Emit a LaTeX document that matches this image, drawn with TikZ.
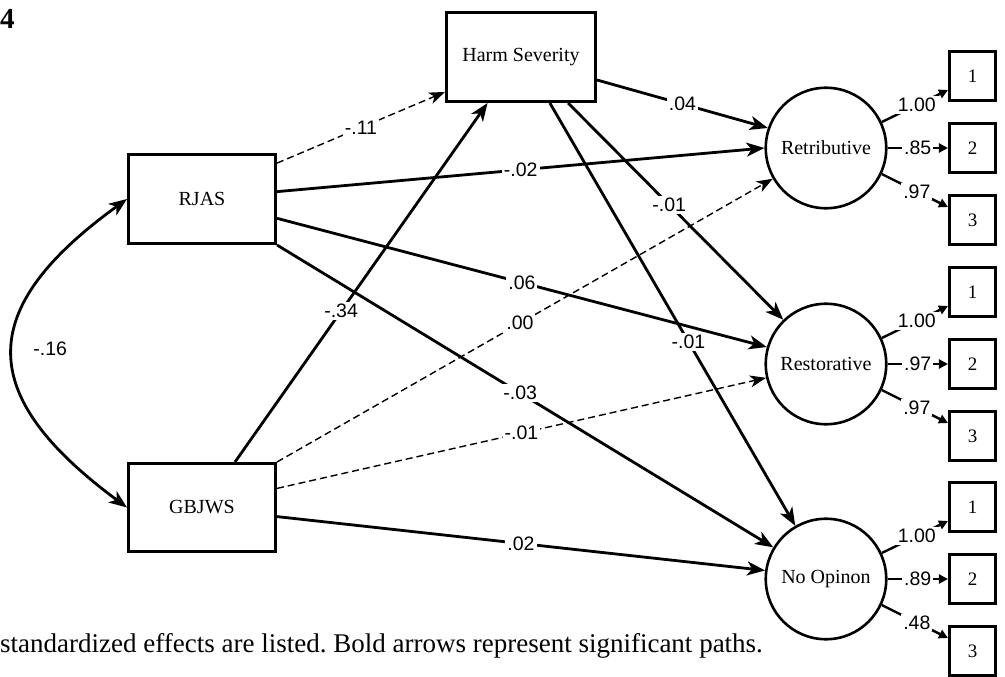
\documentclass[tikz,border=0pt]{standalone}
\usepackage{fontspec}
\setmainfont{Liberation Serif}
\newfontfamily\lblfont{Liberation Sans}
\usetikzlibrary{arrows.meta,calc}
\frenchspacing
\begin{document}
\begin{tikzpicture}[x=1pt,y=-1pt,
  box/.style={draw, line width=3pt, minimum width=147pt, minimum height=89pt, font=\fontsize{20}{20}\selectfont, inner sep=0pt},
  ind/.style={draw, line width=2.6pt, minimum width=46.5pt, minimum height=49.5pt, font=\fontsize{19}{19}\selectfont, inner sep=0pt},
  lat/.style={draw, circle, line width=2.6pt, minimum size=120.5pt, font=\fontsize{20}{20}\selectfont, inner sep=0pt},
  sig/.style={line width=2.8pt, -{Stealth[length=18pt,width=14pt,inset=5pt]}},
  ns/.style={line width=1.4pt, dash pattern=on 7pt off 4pt, -{Stealth[length=16pt,width=12pt,inset=4.5pt]}},
  ld/.style={line width=2.4pt, -{Triangle[length=9pt,width=9pt]}},
  lbl/.style={fill=white, inner sep=2pt, font=\lblfont\fontsize{19.5}{19.5}\selectfont},
  lbltext/.style={inner sep=0pt, font=\lblfont\fontsize{19.5}{19.5}\selectfont},
]
\useasboundingbox (0,0) rectangle (1005,677);

% observed variables
\node[box, minimum width=149pt] (hs) at (521,57) {Harm Severity};
\node[box] (rjas) at (202,199) {RJAS};
\node[box, minimum height=88pt] (gb) at (202,507.5) {GBJWS};

% latent variables
\node[lat] (ret) at (826,148) {Retributive};
\node[lat] (rest) at (826,364) {Restorative};
\node[lat] (noop) at (826,579) {No Opinon};

% indicators
\node[ind] (ret1) at (972.5,76) {1};
\node[ind] (ret2) at (972.5,148) {2};
\node[ind] (ret3) at (972.5,220) {3};
\node[ind] (rest1) at (972.5,292) {1};
\node[ind] (rest2) at (972.5,364) {2};
\node[ind] (rest3) at (972.5,436) {3};
\node[ind] (noop1) at (972.5,507) {1};
\node[ind] (noop2) at (972.5,579) {2};
\node[ind] (noop3) at (972.5,651) {3};

% attachment points
\coordinate (rjA) at ($(rjas.north east)!0.11!(rjas.south east)$);
\coordinate (rjB) at ($(rjas.north east)!0.42!(rjas.south east)$);
\coordinate (rjC) at ($(rjas.north east)!0.71!(rjas.south east)$);
\coordinate (gbT) at ($(gb.north west)!0.72!(gb.north east)$);
\coordinate (gbB) at ($(gb.north east)!0.29!(gb.south east)$);
\coordinate (gbC) at ($(gb.north east)!0.60!(gb.south east)$);
\coordinate (hsL) at ($(hs.north west)!0.88!(hs.south west)$);
\coordinate (hsR) at ($(hs.north east)!0.75!(hs.south east)$);
\coordinate (hsB1) at ($(hs.south west)!0.28!(hs.south east)$);
\coordinate (hsB2) at ($(hs.south west)!0.69!(hs.south east)$);
\coordinate (hsB3) at ($(hs.south west)!0.81!(hs.south east)$);

% structural paths
\draw[ns] (rjA) -- (hsL);
\draw[sig] (gbT) -- (hsB1);
\draw[sig] (hsR) -- (ret.161);
\draw[sig] (rjB) -- (ret.180);
\draw[sig] (hsB3) -- (rest.134);
\draw[sig] (rjC) -- (rest.164);
\draw[ns] (gb.north east) -- (ret.210);
\draw[sig] (rjas.south east) -- (noop.149);
\draw[ns] (gbB) -- (rest.193);
\draw[sig] (gbC) -- (noop.172);
\draw[sig] (hsB2) -- (noop.120);

% path labels
\path (rjA) -- (hsL) node[lbl,pos=0.5]{-.11};
\path (gbT) -- (hsB1) node[lbl,pos=0.42]{-.34};
\path (hsR) -- (ret.161) node[lbl,pos=0.5]{.04};
\path (rjB) -- (ret.180) node[lbl,pos=0.5]{-.02};
\path (hsB3) -- (rest.134) node[lbl,pos=0.47]{-.01};
\path (rjC) -- (rest.164) node[lbl,pos=0.5]{.06};
\path (gb.north east) -- (ret.210) node[lbl,pos=0.49]{.00};
\path (rjas.south east) -- (noop.149) node[lbl,pos=0.49]{-.03};
\path (gbB) -- (rest.193) node[lbl,pos=0.5]{-.01};
\path (gbC) -- (noop.172) node[lbl,pos=0.5]{.02};
\path (hsB2) -- (noop.120) node[lbl,pos=0.565]{-.01};

% covariance
\draw[line width=2.8pt, {Stealth[length=18pt,width=14pt,inset=5pt]}-{Stealth[length=18pt,width=14pt,inset=5pt]}]
  (rjas.west) .. controls (-25,309) and (-25,395) .. (gb.west)
  node[lbltext, pos=0.5, anchor=west, xshift=19pt, yshift=4pt]{-.16};

% loadings
\draw[ld] (ret.25) -- ($(ret1.west)+(0,14)$) node[lbl,pos=0.53]{1.00};
\draw[ld] (ret.0) -- (ret2.west) node[lbl,pos=0.5]{.85};
\draw[ld] (ret.-25) -- ($(ret3.west)+(0,-13)$) node[lbl,pos=0.53]{.97};
\draw[ld] (rest.25) -- ($(rest1.west)+(0,14)$) node[lbl,pos=0.53]{1.00};
\draw[ld] (rest.0) -- (rest2.west) node[lbl,pos=0.5]{.97};
\draw[ld] (rest.-25) -- ($(rest3.west)+(0,-13)$) node[lbl,pos=0.53]{.97};
\draw[ld] (noop.25) -- ($(noop1.west)+(0,14)$) node[lbl,pos=0.53]{1.00};
\draw[ld] (noop.0) -- (noop2.west) node[lbl,pos=0.5]{.89};
\draw[ld] (noop.-25) -- ($(noop3.west)+(0,-13)$) node[lbl,pos=0.53]{.48};

% figure number and caption
\node[anchor=base west, inner sep=0pt, font=\bfseries\fontsize{29}{29}\selectfont] (fignum) at (0,29) {4};
\node[anchor=base west, inner sep=0pt, font=\fontsize{27}{27}\selectfont] (cap) at (0,652) {standardized effects are listed. Bold arrows represent significant paths.};
\end{tikzpicture}
\end{document}
